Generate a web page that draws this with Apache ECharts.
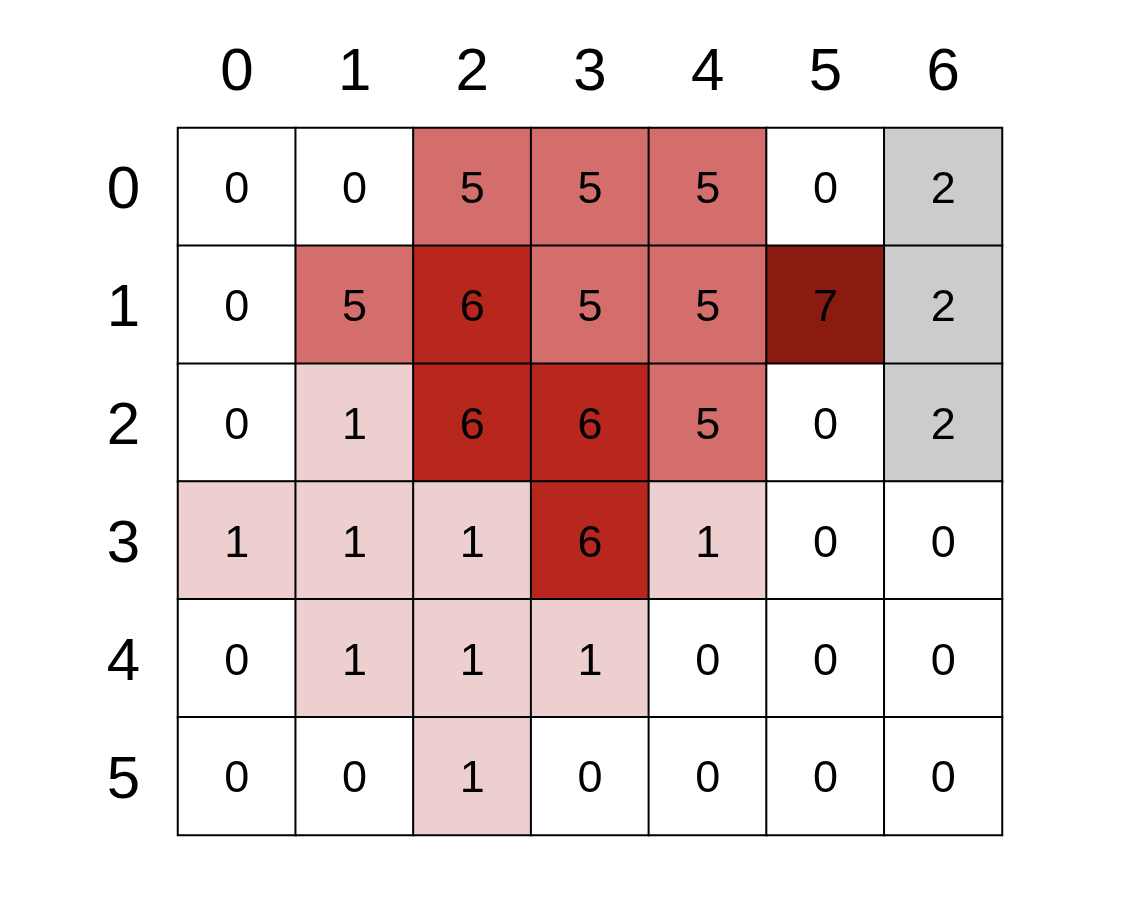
<!DOCTYPE html>
<html>
<head>
<meta charset="utf-8">
<script src="https://cdn.jsdelivr.net/npm/echarts@6/dist/echarts.min.js"></script>
<style>html,body{margin:0;padding:0;background:#fff}#c{width:1144px;height:912px}</style>
</head>
<body>
<div id="c"></div>
<script>
const xLabels = ['0','1','2','3','4','5','6'];
const yLabels = ['0','1','2','3','4','5'];
const row0 = [0,0,5,5,5,0,2];
const row1 = [0,5,6,5,5,7,2];
const row2 = [0,1,6,6,5,0,2];
const row3 = [1,1,1,6,1,0,0];
const row4 = [0,1,1,1,0,0,0];
const row5 = [0,0,1,0,0,0,0];
const rows = [row0,row1,row2,row3,row4,row5];
const valueColors = [
  {value:0,color:'#ffffff'},
  {value:1,color:'#eecfcf'},
  {value:2,color:'#cccccc'},
  {value:5,color:'#d46e6c'},
  {value:6,color:'#b8271d'},
  {value:7,color:'#8b1a11'}
];
const data = [];
rows.forEach((r,yi)=>r.forEach((v,xi)=>data.push([xi,yi,v])));
const font = 'Liberation Sans, Arial, sans-serif';
const chart = echarts.init(document.getElementById('c'));
chart.setOption({
  animation:false,
  backgroundColor:'#fff',
  grid:{left:178,top:128,width:824,height:707},
  xAxis:{type:'category',data:xLabels,position:'top',
    axisLine:{show:false},axisTick:{show:false},splitLine:{show:false},
    axisLabel:{fontSize:60,color:'#000',fontFamily:font,margin:25}},
  yAxis:{type:'category',data:yLabels,inverse:true,
    axisLine:{show:false},axisTick:{show:false},splitLine:{show:false},
    axisLabel:{fontSize:60,color:'#000',fontFamily:font,margin:38,
      formatter:'{a|{value}}',
      rich:{a:{fontSize:60,color:'#000',fontFamily:font,padding:[10,0,0,0]}}}},
  visualMap:{type:'piecewise',show:false,dimension:2,pieces:valueColors},
  series:[{type:'heatmap',data:data,
    itemStyle:{borderColor:'#000',borderWidth:2},
    label:{show:true,fontSize:45,color:'#000',fontFamily:font,offset:[0,4]}}]
});
</script>
</body>
</html>
